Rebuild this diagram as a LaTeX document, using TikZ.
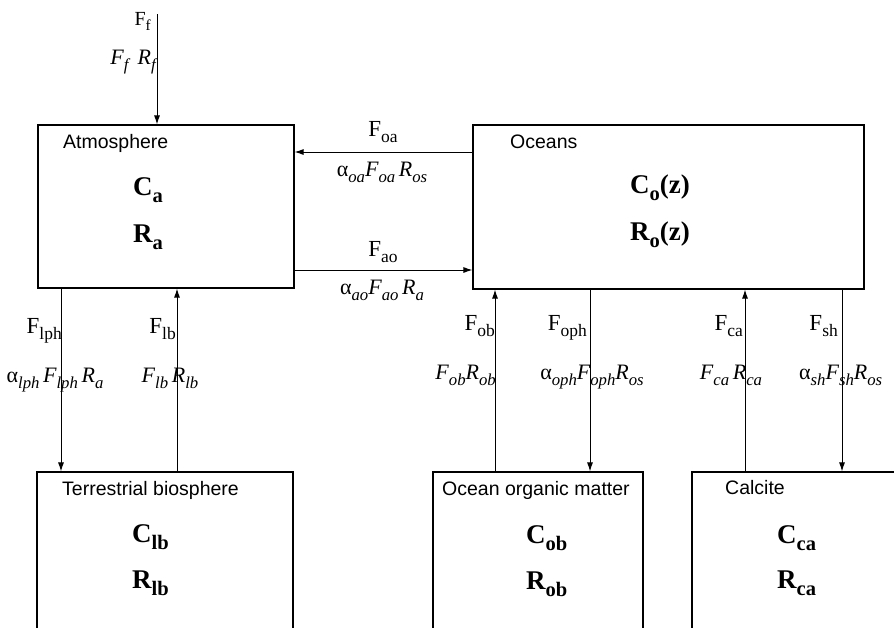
\documentclass[tikz,border=0pt]{standalone}
\usepackage{fontspec}
\setmainfont{Liberation Serif}
\newfontfamily\hvfont{Liberation Sans}
\usetikzlibrary{arrows.meta}
\tikzset{
  box/.style={draw, line width=1.1pt, rectangle, inner sep=0pt},
  arr/.style={-{Latex[length=9pt,width=6pt]}, line width=1pt},
  boxtitle/.style={font=\hvfont\fontsize{19.5}{22}\selectfont, inner sep=0pt},
  big/.style={font=\bfseries\fontsize{27}{30}\selectfont, inner sep=0pt},
  flx/.style={font=\fontsize{23}{26}\selectfont, inner sep=0pt},
  flxi/.style={font=\fontsize{22}{26}\selectfont, inner sep=0pt},
  flxs/.style={font=\fontsize{20}{22}\selectfont, inner sep=0pt}
}
\newcommand{\dn}[1]{\raisebox{-0.28em}{\scalebox{0.76}{#1}}}
\newcommand{\isub}[2]{\textit{#1\dn{#2}}}
\newcommand{\rsub}[2]{#1\dn{#2}}
\begin{document}
\begin{tikzpicture}[x=1pt,y=-1pt]
\useasboundingbox (0,0) rectangle (894,627);
\clip (0,0) rectangle (894,627);
% boxes
\node[box, minimum width=256pt, minimum height=163pt] (atm) at (166,206.5) {};
\node[box, minimum width=391pt, minimum height=164pt] (oce) at (668.5,207) {};
\node[box, minimum width=256pt, minimum height=178pt] (ter) at (165,561) {};
\node[box, minimum width=210pt, minimum height=178pt] (oom) at (538,561) {};
\node[box, minimum width=268pt, minimum height=178pt] (cal) at (826,561) {};
% titles
\node[boxtitle, anchor=base west] (tatm) at (63,148) {Atmosphere};
\node[boxtitle, anchor=base west] (toce) at (510,148) {Oceans};
\node[boxtitle, anchor=base west] (tter) at (62,495) {Terrestrial biosphere};
\node[boxtitle, anchor=base west] (toom) at (442,495) {Ocean organic matter};
\node[boxtitle, anchor=base west] (tcal) at (725,494) {Calcite};
% contents
\node[big, anchor=base west] (ca) at (133,195) {\rsub{C}{a}};
\node[big, anchor=base west] (ra) at (133,242) {\rsub{R}{a}};
\node[big, anchor=base west] (co) at (630,193) {\rsub{C}{o}(z)};
\node[big, anchor=base west] (ro) at (630,240) {\rsub{R}{o}(z)};
\node[big, anchor=base west] (clb) at (132,542) {\rsub{C}{lb}};
\node[big, anchor=base west] (rlb) at (132,588) {\rsub{R}{lb}};
\node[big, anchor=base west] (cob) at (526,543) {\rsub{C}{ob}};
\node[big, anchor=base west] (rob) at (526,589) {\rsub{R}{ob}};
\node[big, anchor=base west] (cca) at (777,543) {\rsub{C}{ca}};
\node[big, anchor=base west] (rca) at (777,588) {\rsub{R}{ca}};
% connector coordinates
\coordinate (ftop) at (157,14);
\coordinate (yoa) at (0,152);
\coordinate (yao) at (0,270);
\coordinate (xlph) at (61,0);
\coordinate (xlb) at (177,0);
\coordinate (xob) at (495,0);
\coordinate (xoph) at (590,0);
\coordinate (xca) at (745,0);
\coordinate (xsh) at (842,0);
% connectors
\draw[arr] (ftop) -- (ftop |- atm.north);
\draw[arr] (oce.west |- yoa) -- (atm.east |- yoa);
\draw[arr] (atm.east |- yao) -- (oce.west |- yao);
\draw[arr] (atm.south -| xlph) -- (ter.north -| xlph);
\draw[arr] (ter.north -| xlb) -- (atm.south -| xlb);
\draw[arr] (oom.north -| xob) -- (oce.south -| xob);
\draw[arr] (oce.south -| xoph) -- (oom.north -| xoph);
\draw[arr] (cal.north -| xca) -- (oce.south -| xca);
\draw[arr] (oce.south -| xsh) -- (cal.north -| xsh);
% flux labels
\node[flxs, anchor=base east] (lf1) at (151,25) {\rsub{F}{f}};
\node[flxi, anchor=base east] (lf2) at (156,64) {\isub{F}{f}\, \isub{R}{f}};
\node[flx, anchor=base] (loa1) at (383,136) {\rsub{F}{oa}};
\node[flxi, anchor=base] (loa2) at (382,176) {α\isub{}{oa}\isub{F}{oa}\,\isub{R}{os}};
\node[flx, anchor=base] (lao1) at (383,256) {\rsub{F}{ao}};
\node[flxi, anchor=base] (lao2) at (382,294) {α\isub{}{ao}\isub{F}{ao}\,\isub{R}{a}};
\node[flx, anchor=base east] (llph1) at (62,333) {\rsub{F}{lph}};
\node[flxi, anchor=base] (llph2) at (55,382) {α\isub{}{lph}\,\isub{F}{lph}\,\isub{R}{a}};
\node[flx, anchor=base east] (llb1) at (176,333) {\rsub{F}{lb}};
\node[flxi, anchor=base] (llb2) at (170,382) {\isub{F}{lb}\,\isub{R}{lb}};
\node[flx, anchor=base east] (lob1) at (495,330) {\rsub{F}{ob}};
\node[flxi, anchor=base east] (lob2) at (496,379) {\isub{F}{ob}\isub{R}{ob}};
\node[flx, anchor=base east] (loph1) at (587,330) {\rsub{F}{oph}};
\node[flxi, anchor=base] (loph2) at (592,379) {α\isub{}{oph}\isub{F}{oph}\isub{R}{os}};
\node[flx, anchor=base east] (lca1) at (743,330) {\rsub{F}{ca}};
\node[flxi, anchor=base] (lca2) at (731,379) {\isub{F}{ca}\,\isub{R}{ca}};
\node[flx, anchor=base east] (lsh1) at (838,330) {\rsub{F}{sh}};
\node[flxi, anchor=base west] (lsh2) at (799,379) {α\isub{}{sh}\isub{F}{sh}\isub{R}{os}};
\end{tikzpicture}
\end{document}
